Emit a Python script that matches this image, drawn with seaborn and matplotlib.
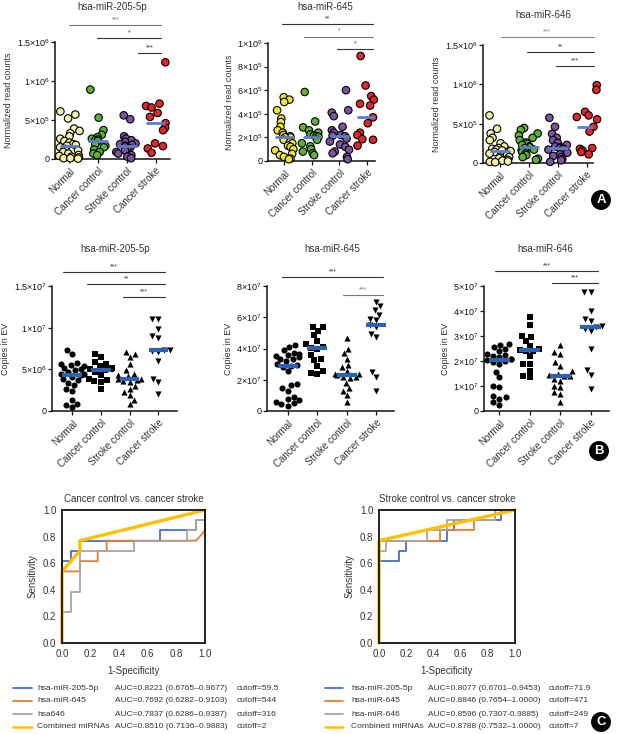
import warnings
import numpy as np
import pandas as pd
import seaborn as sns
import matplotlib.pyplot as plt
from matplotlib.lines import Line2D
from matplotlib.ticker import FuncFormatter
import matplotlib.transforms as mtrans

warnings.filterwarnings('ignore')
np.random.seed(7)

groups = ['Normal', 'Cancer control', 'Stroke control', 'Cancer stroke']

# A: normalized read counts (x1e5)
a1_vals = [
    [6.1, 5.7, 5.2, 3.9, 3.6, 3.3, 2.9, 2.6, 2.3, 2.1, 1.9, 1.8, 1.7, 1.5, 1.3, 1.1, 0.9, 0.7, 0.5, 0.4, 0.3, 0.2, 0.1, 0.1, 0.05],
    [8.9, 5.3, 3.7, 3.1, 2.8, 2.6, 2.5, 2.4, 2.3, 1.9, 1.7, 1.5, 1.2, 0.9, 0.7, 0.5],
    [5.6, 5.1, 2.9, 2.6, 2.4, 2.2, 2.0, 1.9, 1.8, 1.7, 1.6, 1.4, 1.3, 1.1, 0.9, 0.7, 0.5, 0.3, 0.1],
    [12.4, 7.1, 6.8, 6.6, 5.9, 5.4, 4.6, 4.0, 3.7, 2.0, 1.65, 1.35, 0.8],
]
a2_vals = [
    [5.4, 5.2, 5.0, 4.3, 3.6, 3.3, 2.9, 2.6, 2.4, 2.2, 2.1, 2.0, 2.0, 1.8, 1.6, 1.5, 1.3, 1.2, 1.0, 0.9, 0.6, 0.5, 0.35, 0.2, 0.15],
    [5.85, 3.35, 2.85, 2.6, 2.4, 2.25, 2.15, 2.1, 2.05, 1.8, 1.5, 1.25, 1.0, 0.8, 0.65, 0.5],
    [6.0, 4.3, 4.1, 3.8, 2.9, 2.6, 2.4, 2.2, 2.15, 2.1, 1.9, 1.65, 1.4, 1.2, 0.95, 0.8, 0.65, 0.35, 0.15],
    [8.9, 6.4, 5.5, 5.2, 4.85, 4.7, 3.7, 3.2, 2.4, 2.2, 1.85, 1.8, 1.3],
]
a3_vals = [
    [6.05, 4.35, 3.75, 3.2, 2.9, 2.5, 2.1, 1.9, 1.8, 1.7, 1.6, 1.55, 1.5, 1.4, 1.2, 1.0, 0.75, 0.6, 0.4, 0.4, 0.3, 0.2, 0.15, 0.1],
    [4.45, 4.2, 3.75, 3.5, 3.2, 2.9, 2.6, 2.45, 2.3, 2.1, 2.0, 1.9, 1.7, 1.6, 1.4, 1.2, 1.0, 0.75, 0.55, 0.4],
    [5.75, 4.6, 3.7, 3.2, 2.9, 2.55, 2.3, 2.1, 2.0, 1.9, 1.8, 1.7, 1.5, 1.3, 1.1, 0.9, 0.75, 0.5, 0.35, 0.15],
    [9.9, 9.3, 6.5, 6.05, 5.85, 5.55, 4.6, 4.0, 1.9, 1.8, 1.6, 1.4, 1.1],
]
# B: copies in EV (b1 x1e6, b2/b3 x1e7)
b1_vals = [
    [7.3, 6.9, 5.8, 5.6, 5.5, 5.4, 5.2, 5.1, 4.9, 4.7, 4.5, 4.4, 4.3, 4.1, 3.9, 3.7, 3.4, 3.1, 2.6, 2.4, 1.3, 0.9, 0.7, 0.5],
    [6.8, 6.5, 5.9, 5.7, 5.4, 5.2, 5.1, 5.0, 4.9, 4.7, 4.3, 3.9, 3.7, 3.6, 3.5, 2.6],
    [7.1, 6.9, 6.5, 5.6, 4.9, 4.5, 4.3, 4.2, 3.9, 3.8, 3.7, 3.6, 3.5, 3.0, 2.7, 2.3, 1.9, 1.3, 0.8],
    [11.1, 11.0, 9.9, 9.0, 8.8, 7.3, 7.3, 7.2, 7.1, 6.0, 3.9, 3.5, 2.0],
]
b2_vals = [
    [4.2, 4.1, 3.9, 3.7, 3.65, 3.6, 3.5, 3.45, 3.35, 3.3, 3.2, 3.0, 2.95, 2.9, 2.8, 2.55, 1.75, 1.65, 1.5, 1.3, 0.9, 0.8, 0.7, 0.6, 0.5, 0.45, 0.35],
    [5.4, 5.35, 5.15, 4.85, 4.5, 4.3, 4.1, 4.05, 4.0, 3.6, 3.3, 3.25, 2.9, 2.55, 2.45, 2.4],
    [4.65, 4.0, 3.7, 3.35, 2.95, 2.8, 2.55, 2.4, 2.35, 2.3, 2.2, 2.15, 2.1, 1.8, 1.45, 1.3, 1.0, 0.6],
    [7.0, 6.7, 6.45, 6.15, 5.9, 5.8, 5.5, 5.4, 4.95, 4.75, 2.5, 2.2, 1.3],
]
b3_vals = [
    [2.7, 2.65, 2.55, 2.5, 2.4, 2.3, 2.25, 2.2, 2.15, 2.1, 2.1, 2.05, 2.0, 1.95, 1.9, 1.55, 1.35, 1.0, 0.95, 0.6, 0.55, 0.5, 0.35, 0.25],
    [3.75, 3.45, 3.0, 2.95, 2.8, 2.6, 2.5, 2.45, 2.4, 2.4, 2.2, 1.9, 1.9, 1.6, 1.4, 1.35],
    [2.65, 2.35, 2.3, 1.95, 1.8, 1.6, 1.5, 1.45, 1.4, 1.4, 1.3, 1.2, 1.0, 0.95, 0.75, 0.7, 0.35],
    [4.75, 4.75, 4.0, 3.7, 3.6, 3.4, 3.35, 3.3, 3.2, 2.5, 1.65, 1.45, 0.9],
]

# C: ROC curves (1-specificity, sensitivity)
roc1_names = ['hsa-miR-205-5p', 'hsa-miR-645', 'hsa646', 'Combined miRNAs']
roc1_auc = ['AUC=0.8221 (0.6765–0.9677)', 'AUC=0.7692 (0.6282–0.9103)',
            'AUC=0.7837 (0.6286–0.9387)', 'AUC=0.8510 (0.7136–0.9883)']
roc1_cut = ['cutoff=59.5', 'cutoff=544', 'cutoff=316', 'cutoff=2']
roc1_fpr = [
    [0, 0, 1/16, 1/16, 2/16, 2/16, 11/16, 11/16, 15/16, 15/16, 1, 1],
    [0, 0, 2/16, 2/16, 4/16, 4/16, 5/16, 5/16, 15/16, 1, 1],
    [0, 0, 1/16, 1/16, 2/16, 2/16, 8/16, 8/16, 14/16, 14/16, 15/16, 15/16, 1, 1],
    [0, 0, 2/16, 2/16, 1],
]
roc1_tpr = [
    [0, 8/13, 8/13, 9/13, 9/13, 10/13, 10/13, 11/13, 11/13, 12/13, 12/13, 1],
    [0, 7/13, 7/13, 8/13, 8/13, 9/13, 9/13, 10/13, 10/13, 11/13, 1],
    [0, 3/13, 3/13, 5/13, 5/13, 9/13, 9/13, 10/13, 10/13, 11/13, 11/13, 12/13, 12/13, 1],
    [0, 7/13, 9/13, 10/13, 1],
]
roc2_names = ['hsa-miR-205-5p', 'hsa-miR-645', 'hsa-miR-646', 'Combined miRNAs']
roc2_auc = ['AUC=0.8077 (0.6701–0.9453)', 'AUC=0.8846 (0.7654–1.0000)',
            'AUC=0.8596 (0.7307-0.9885)', 'AUC=0.8788 (0.7532–1.0000)']
roc2_cut = ['cutoff=71.9', 'cutoff=471', 'cutoff=249', 'cutoff=7']
roc2_fpr = [
    [0, 0, 3/20, 3/20, 4/20, 4/20, 10/20, 10/20, 11/20, 11/20, 18/20, 18/20, 1],
    [0, 0, 9/20, 9/20, 14/20, 14/20, 17/20, 17/20, 1],
    [0, 0, 1/20, 1/20, 7/20, 7/20, 10/20, 10/20, 17/20, 17/20, 1],
    [0, 0, 1],
]
roc2_tpr = [
    [0, 8/13, 8/13, 9/13, 9/13, 10/13, 10/13, 11/13, 11/13, 12/13, 12/13, 1, 1],
    [0, 10/13, 10/13, 11/13, 11/13, 12/13, 12/13, 1, 1],
    [0, 9/13, 9/13, 10/13, 10/13, 11/13, 11/13, 12/13, 12/13, 1, 1],
    [0, 10/13, 1],
]

W, H = 617, 734
sns.set_style('ticks')
plt.rcParams['font.family'] = ['Liberation Sans', 'DejaVu Sans']
plt.rcParams['text.color'] = '#333333'
plt.rcParams['axes.labelcolor'] = '#333333'
plt.rcParams['xtick.color'] = '#111111'
plt.rcParams['ytick.color'] = '#111111'
fig = plt.figure(figsize=(W / 100, H / 100), dpi=100)

light_pal = ['#f4f0a6', '#5db233', '#7d52a1', '#e3262b']
bright_pal = ['#f0e53a', '#5db233', '#7d52a1', '#e3262b']
b_markers = ['o', 's', '^', 'v']
roc_colors = ['#4472c4', '#ed7d31', '#a5a5a5', '#ffc000']
roc_widths = [1.3, 1.3, 1.3, 2.4]


def add_ax(left, top, right, bottom):
    return fig.add_axes([left / W, 1 - bottom / H, (right - left) / W, (bottom - top) / H])


def sci_label(v, pos=None):
    if v == 0:
        return '0'
    e = int(np.floor(np.log10(v) + 1e-9))
    m = round(v / 10 ** e, 2)
    m = f'{m:g}'
    return r'$\mathregular{' + m + r'×10^{' + str(e) + r'}}$'


def dot_panel(box, xlim, title, title_y, ylabel, values, scale, ymax, ystep,
              palette, brackets, colored=True):
    ax = add_ax(*box)
    df = pd.DataFrame({
        'group': np.repeat(groups, [len(v) for v in values]),
        'value': np.concatenate(values) * scale,
    })
    if colored:
        sns.stripplot(data=df, x='group', y='value', order=groups, hue='group',
                      palette=palette, size=5.4, edgecolor='black', linewidth=0.8,
                      jitter=0.37, legend=False, ax=ax, clip_on=False)
        med_color, med_lw = '#5b7fd0', 2.0
    else:
        for g, m, v in zip(groups, b_markers, values):
            sns.swarmplot(x=[g] * len(v), y=np.array(v) * scale, order=groups,
                          marker=m, color='black', size=4.4, ax=ax, clip_on=False)
        med_color, med_lw = '#2d62b0', 3.0
    sns.boxplot(data=df, x='group', y='value', order=groups, showbox=False,
                showcaps=False, showfliers=False, whiskerprops={'linewidth': 0},
                medianprops={'color': med_color, 'linewidth': med_lw, 'zorder': 10},
                width=0.68, ax=ax)
    ax.set_xlim(*xlim)
    ax.set_ylim(0, ymax)
    ax.set_yticks(np.arange(0, ymax + ystep / 2, ystep))
    ax.yaxis.set_major_formatter(FuncFormatter(sci_label))
    ax.set_xticks(range(4))
    ax.set_xticklabels(groups, rotation=45, ha='right', rotation_mode='anchor', fontsize=7, color='#333333')
    ax.tick_params(axis='y', labelsize=6.5, length=3, width=0.9, pad=0.6)
    ax.tick_params(axis='x', length=3, width=0.9, pad=2)
    for sp in ('left', 'bottom'):
        ax.spines[sp].set_linewidth(1.1)
        ax.spines[sp].set_color('#111111')
    sns.despine(ax=ax)
    ax.set_xlabel('')
    ax.set_ylabel(ylabel, fontsize=6.5, labelpad=2.5)
    tr = mtrans.blended_transform_factory(ax.transData, ax.transAxes)
    ax.text(1.5, title_y, title, transform=tr, ha='center', va='center', fontsize=7)
    for x0, x1, yy, lab, col in brackets:
        ax.plot([x0, x1], [yy, yy], color=col, lw=0.8, transform=tr, clip_on=False)
        ax.text((x0 + x1) / 2, yy + 0.015, lab, transform=tr, ha='center', va='bottom',
                fontsize=5, color=col)
    return ax


# Row A
dot_panel((55, 42, 170, 159), (-0.5, 3.5), 'hsa-miR-205-5p', 1.30, 'Normalized read counts',
          a1_vals, 1e5, 1.5e6, 5e5, light_pal,
          [(0.0, 3.2, 1.145, '***', '#777777'), (0.95, 3.2, 1.034, '*', '#333333'),
           (2.4, 3.2, 0.906, '***', '#333333')])
dot_panel((268, 43, 375, 161), (-0.6, 3.3), 'hsa-miR-645', 1.305, 'Normalized read counts',
          a2_vals, 1e5, 1e6, 2e5, bright_pal,
          [(-0.1, 3.24, 1.161, '**', '#333333'), (0.72, 3.24, 1.054, '*', '#777777'),
           (1.91, 3.24, 0.95, '*', '#333333')])
dot_panel((483, 45, 593, 163), (-0.59, 3.22), 'hsa-miR-646', 1.254, 'Normalized read counts',
          a3_vals, 1e5, 1.5e6, 5e5, light_pal,
          [(0.03, 3.24, 1.068, '***', '#888888'), (0.93, 3.24, 0.94, '**', '#333333'),
           (1.93, 3.24, 0.82, '***', '#333333')])

# Row B
dot_panel((52, 286, 177, 411), (-0.7, 3.65), 'hsa-miR-205-5p', 1.296, 'Copies in EV',
          b1_vals, 1e6, 1.5e7, 5e6, None,
          [(-0.31, 3.24, 1.112, '***', '#333333'), (0.52, 3.24, 1.016, '**', '#333333'),
           (1.78, 3.24, 0.912, '***', '#333333')], colored=False)
dot_panel((267, 286, 394, 411), (-0.7, 3.6), 'hsa-miR-645', 1.296, 'Copies in EV',
          b2_vals, 1e7, 8e7, 2e7, None,
          [(-0.2, 3.24, 1.072, '***', '#333333'), (1.88, 3.24, 0.928, '***', '#777777')],
          colored=False)
dot_panel((484, 286, 609, 411), (-0.5, 3.6), 'hsa-miR-646', 1.296, 'Copies in EV',
          b3_vals, 1e7, 5e7, 1e7, None,
          [(-0.13, 3.23, 1.12, '***', '#333333'), (1.72, 3.23, 1.024, '***', '#333333')],
          colored=False)


def roc_panel(box, title, fprs, tprs, names, aucs, cuts, cols):
    ax = add_ax(*box)
    for fpr, tpr, c, lw in zip(fprs, tprs, roc_colors, roc_widths):
        sns.lineplot(x=fpr, y=tpr, sort=False, estimator=None, color=c, lw=lw,
                     ax=ax, clip_on=False)
    ax.set_xlim(0, 1)
    ax.set_ylim(0, 1)
    ticks = np.arange(0, 1.01, 0.2)
    ax.set_xticks(ticks)
    ax.set_yticks(ticks)
    ax.xaxis.set_major_formatter(FuncFormatter(lambda v, p: f'{v:.1f}'))
    ax.yaxis.set_major_formatter(FuncFormatter(lambda v, p: f'{v:.1f}'))
    ax.tick_params(labelsize=7, length=0, pad=4, labelcolor='#333333')
    for sp in ax.spines.values():
        sp.set_linewidth(1.3)
        sp.set_color('#111111')
    ax.set_xlabel('1-Specificity', fontsize=7, labelpad=5)
    ax.set_ylabel('Sensitivity', fontsize=7, labelpad=4)
    ax.set_title(title, fontsize=7, pad=6, color='#333333')
    rows = [688, 701, 714, 727]
    for yy, c, lw, n, a, k in zip(rows, roc_colors, roc_widths, names, aucs, cuts):
        yf = 1 - yy / H
        fig.add_artist(Line2D([cols[0] / W, cols[1] / W], [yf, yf], color=c, lw=min(lw, 1.8)))
        fig.text(cols[2] / W, yf, n, va='center', fontsize=6.1)
        fig.text(cols[3] / W, yf, a, va='center', fontsize=6.0)
        fig.text(cols[4] / W, yf, k, va='center', fontsize=6.1)
    return ax


roc_panel((62, 510, 205, 643), 'Cancer control vs. cancer stroke', roc1_fpr, roc1_tpr,
          roc1_names, roc1_auc, roc1_cut, (13, 32, 37, 115, 237))
roc_panel((379, 510, 515, 643), 'Stroke control vs. cancer stroke', roc2_fpr, roc2_tpr,
          roc2_names, roc2_auc, roc2_cut, (325, 343, 351, 428, 549))

for lab, (x, y) in zip('ABC', [(601, 200), (599, 451), (601, 722)]):
    fig.text(x / W, 1 - y / H, lab, color='white', fontweight='bold', fontsize=9.5,
             ha='center', va='center',
             bbox=dict(boxstyle='circle,pad=0.3', fc='black', ec='none'))

fig.savefig('out.png', dpi=100)
